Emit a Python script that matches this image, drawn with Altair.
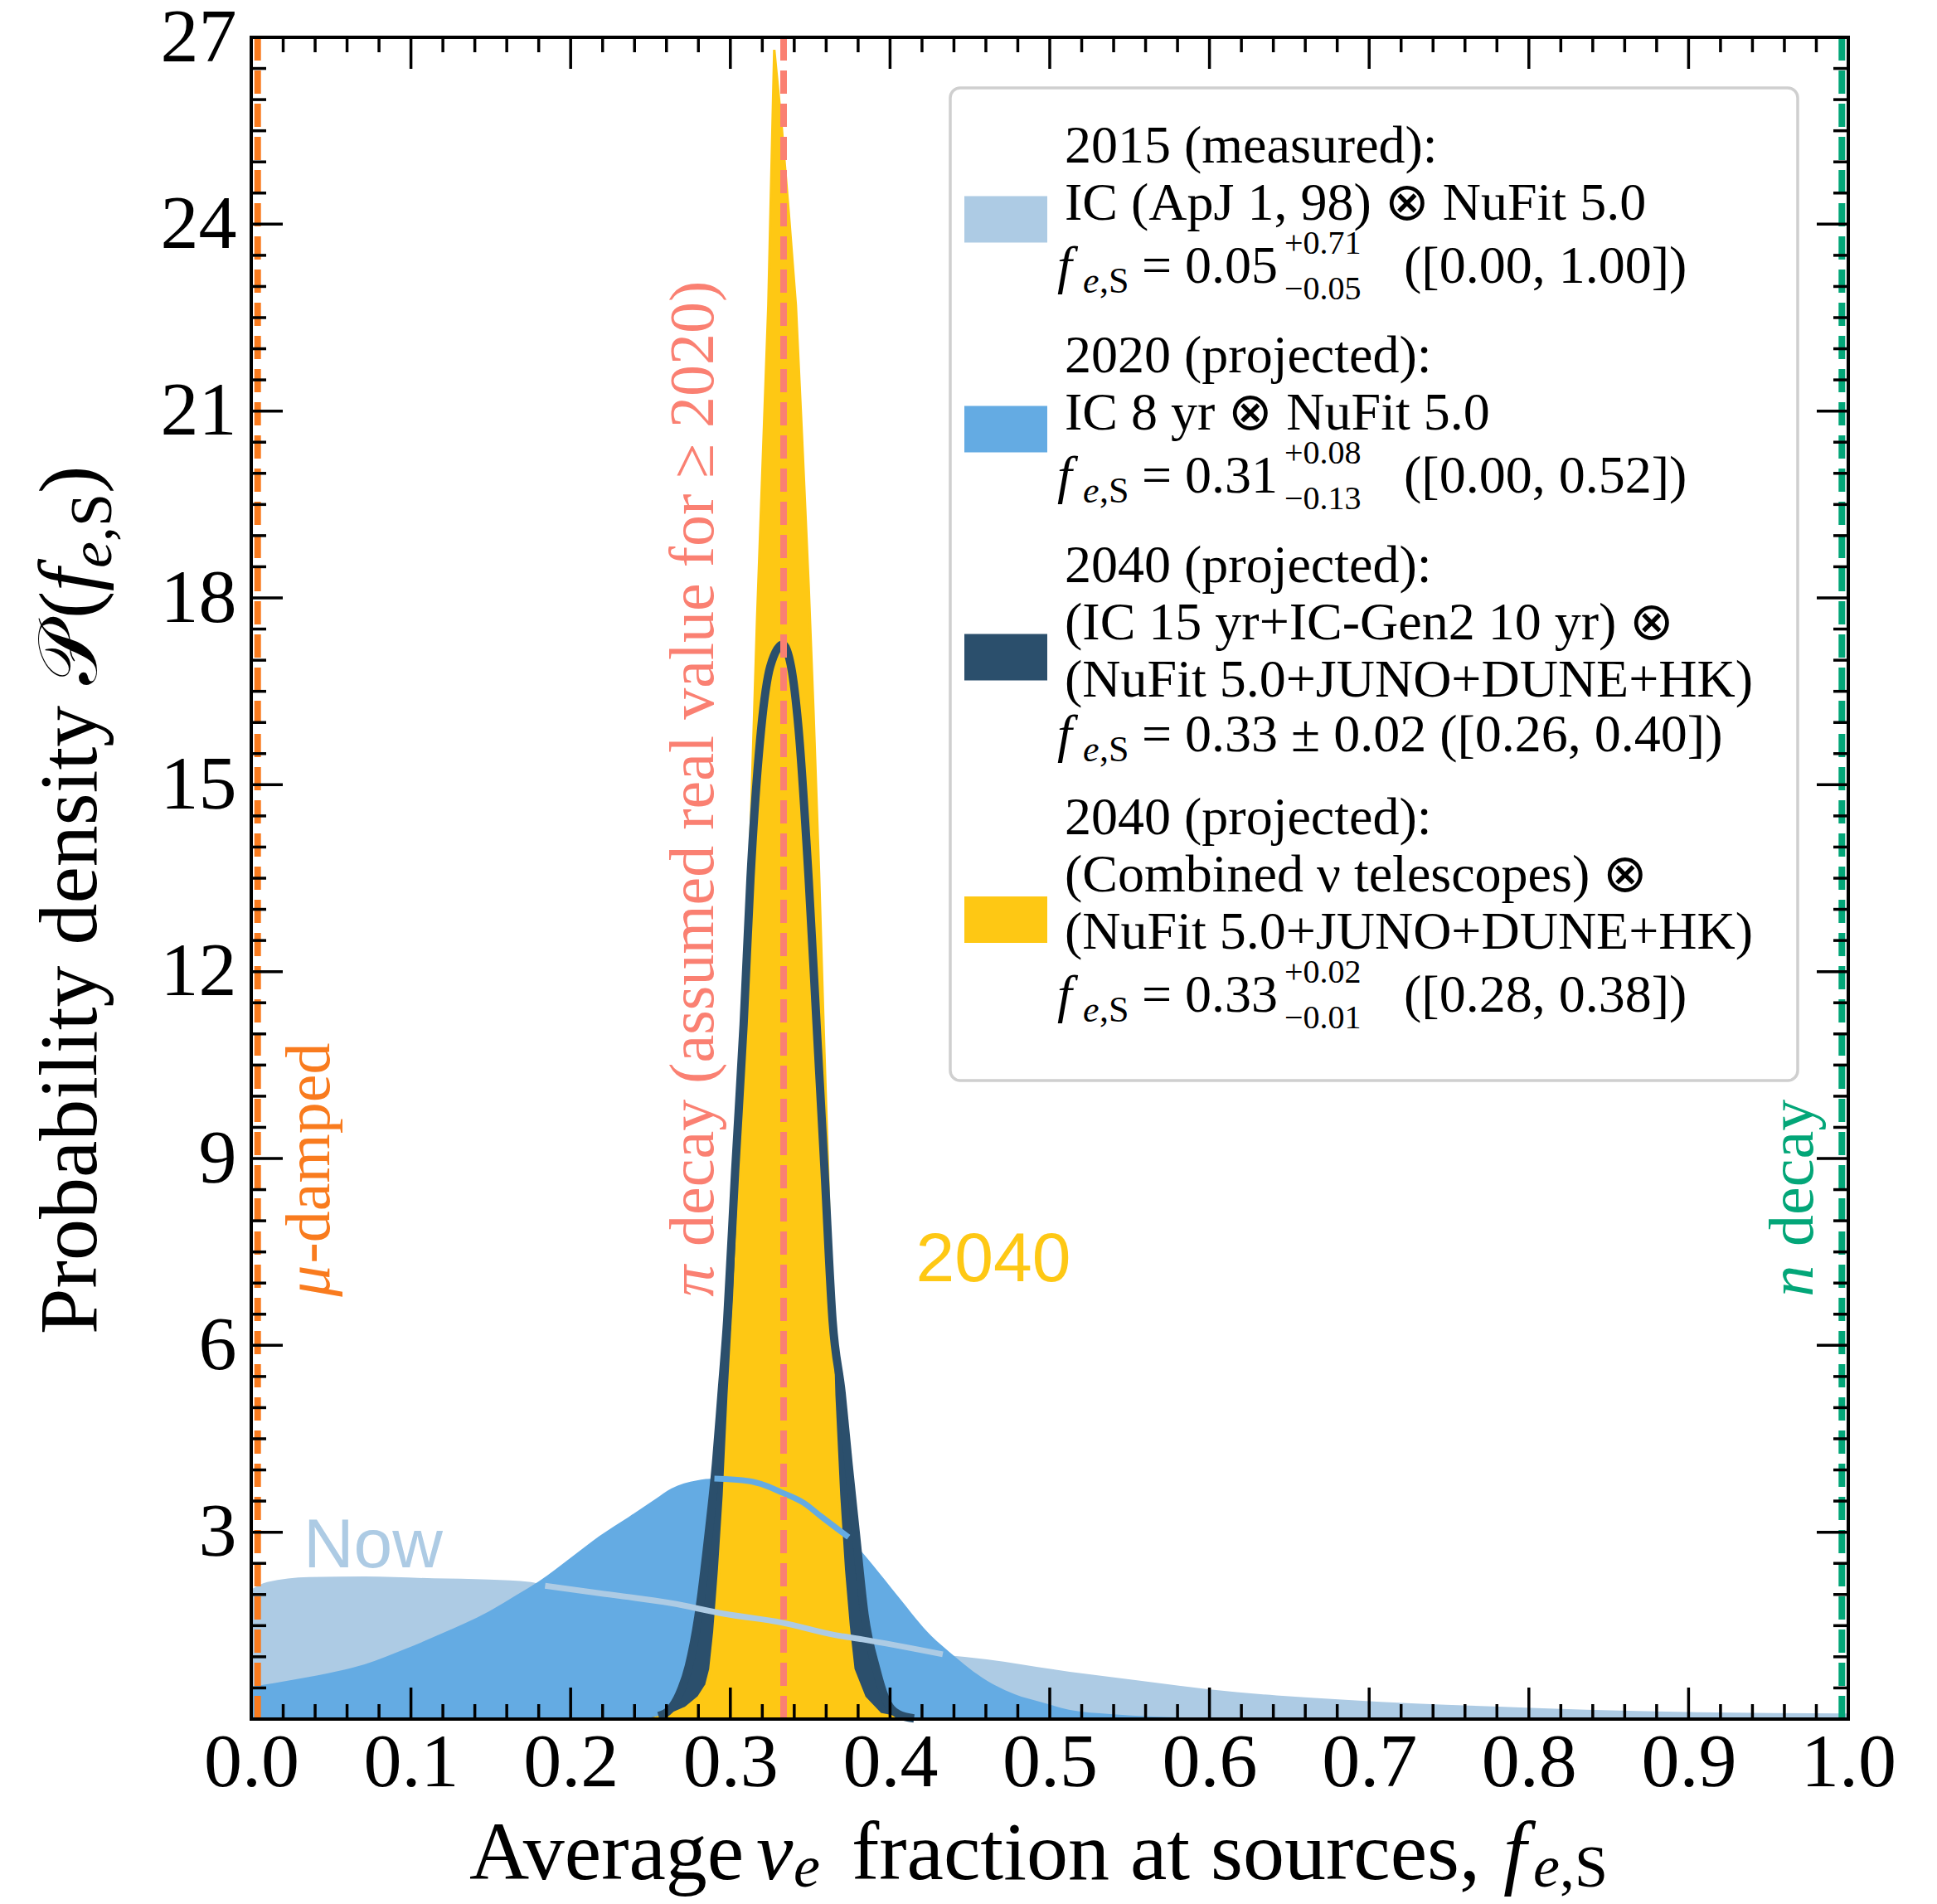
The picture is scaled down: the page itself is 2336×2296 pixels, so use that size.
import altair as alt
import pandas as pd

# ---------------- data ----------------
# 2015 (measured): IC (ApJ 1, 98) (x) NuFit 5.0
fes_2015 = [0.0, 0.010, 0.036, 0.071, 0.114, 0.149, 0.175, 0.184, 0.218, 0.263, 0.296,
            0.332, 0.3655, 0.3827, 0.433, 0.4605, 0.5125, 0.5556, 0.599, 0.642, 0.685,
            0.729, 0.781, 0.836, 0.905, 1.0]
pdf_2015 = [2.08, 2.20, 2.28, 2.29, 2.26, 2.24, 2.20, 2.14, 2.02, 1.86, 1.69,
            1.55, 1.35, 1.28, 1.04, 0.96, 0.76, 0.62, 0.48, 0.38, 0.31,
            0.25, 0.20, 0.15, 0.11, 0.09]

# 2020 (projected): IC 8 yr (x) NuFit 5.0
fes_2020 = [0.0, 0.028, 0.054, 0.071, 0.097, 0.119, 0.149, 0.166, 0.180, 0.201, 0.218,
            0.236, 0.253, 0.263, 0.279, 0.290, 0.3115, 0.322, 0.332, 0.346, 0.357, 0.374,
            0.389, 0.405, 0.426, 0.438, 0.4605, 0.478, 0.495, 0.512, 0.538, 0.564, 0.60,
            0.65, 1.0]
pdf_2020 = [0.52, 0.64, 0.77, 0.88, 1.13, 1.37, 1.73, 1.99, 2.21, 2.61, 2.94,
            3.24, 3.53, 3.70, 3.83, 3.86, 3.82, 3.75, 3.64, 3.47, 3.25, 2.92,
            2.48, 1.97, 1.33, 1.06, 0.62, 0.40, 0.27, 0.15, 0.08, 0.04, 0.02,
            0.0, 0.0]

# 2040 (projected): (IC 15 yr + IC-Gen2 10 yr) (x) (NuFit 5.0+JUNO+DUNE+HK)
fes_2040_gen2 = [0.240, 0.255, 0.262, 0.268, 0.274, 0.280, 0.2865, 0.291, 0.2944, 0.298,
                 0.303, 0.3083, 0.3126, 0.3193, 0.325, 0.3328, 0.338, 0.3427, 0.349, 0.354,
                 0.359, 0.364, 0.3697, 0.374, 0.3785, 0.384, 0.3914, 0.3967, 0.405, 0.415,
                 0.430]
pdf_2040_gen2 = [0.0, 0.05, 0.15, 0.4, 0.85, 1.65, 3.0, 4.1, 5.2, 6.4,
                 8.8, 11.15, 13.5, 15.9, 16.9, 17.25, 16.9, 15.9, 13.5, 11.15,
                 8.8, 6.4, 5.23, 4.1, 3.0, 1.68, 0.8, 0.35, 0.08, 0.01,
                 0.0]

# 2040 (projected): (Combined nu telescopes) (x) (NuFit 5.0+JUNO+DUNE+HK)
fes_2040_comb = [0.0, 0.250, 0.263, 0.272, 0.280, 0.285, 0.2875, 0.290, 0.293, 0.296,
                 0.299, 0.3025, 0.3075, 0.312, 0.3168, 0.3238, 0.3275, 0.332, 0.3365, 0.341,
                 0.345, 0.349, 0.352, 0.3555, 0.3585, 0.361, 0.363, 0.365, 0.368, 0.371,
                 0.374, 0.377, 0.384, 0.394, 0.410, 1.0]
pdf_2040_comb = [0.0, 0.0, 0.08, 0.18, 0.35, 0.55, 0.8, 1.4, 2.4, 3.6,
                 5.2, 6.8, 9.8, 13.7, 17.7, 22.7, 26.8, 25.6, 24.2, 22.7,
                 20.5, 18.2, 16.2, 13.6, 11.0, 9.0, 7.0, 5.2, 3.6, 2.4,
                 1.5, 0.8, 0.35, 0.08, 0.0, 0.0]

# reference flavour compositions (dashed lines)
mu_damped_fes = 0.004
pi_decay_fes = 1.0 / 3.0
n_decay_fes = 0.996

# tick marks
x_major = [i / 10 for i in range(11)]
x_minor = [i / 50 for i in range(51) if i % 5]
y_major = [3 * i for i in range(10)]
y_minor = [i / 2 for i in range(55) if i % 6]
y_labels = y_major[1:]

# legend content
legend_entries = [
    {"head": ["2015 (measured):", "IC (ApJ 1, 98) \u2297 NuFit 5.0"],
     "central": "0.05", "up": "+0.71", "down": "\u22120.05", "range": "([0.00, 1.00])"},
    {"head": ["2020 (projected):", "IC 8 yr \u2297 NuFit 5.0"],
     "central": "0.31", "up": "+0.08", "down": "\u22120.13", "range": "([0.00, 0.52])"},
    {"head": ["2040 (projected):", "(IC 15 yr+IC-Gen2 10 yr) \u2297",
              "(NuFit 5.0+JUNO+DUNE+HK)"],
     "central": "0.33 \u00b1 0.02", "up": None, "down": None, "range": "([0.26, 0.40])"},
    {"head": ["2040 (projected):", "(Combined \u03bd telescopes) \u2297",
              "(NuFit 5.0+JUNO+DUNE+HK)"],
     "central": "0.33", "up": "+0.02", "down": "\u22120.01", "range": "([0.28, 0.38])"},
]

# rotated annotations: (symbol, rest, gap after symbol, x position, colour)
vertical_notes = [
    ("\u03bc", "-damped", False, 0.037, "#F97B1E"),
    ("\u03c0", "decay (assumed real value for \u2265 2020)", True, 0.277, "#FA8072"),
    ("n", "decay", True, 0.9657, "#03A678"),
]

# ---------------- styling ----------------
W, H = 1926, 2028
SERIF = "Liberation Serif"
SANS = "Liberation Sans"
C_2015 = "#ADCBE4"
C_2020 = "#64ABE3"
C_DARK = "#2B4F6C"
C_YEL = "#FEC814"
C_ORANGE = "#F97B1E"
C_SALMON = "#FA8072"
C_GREEN = "#03A678"
legend_colors = [C_2015, C_2020, C_DARK, C_YEL]
YMAX = 27

xs = alt.Scale(domain=[0, 1], nice=False, zero=False)
ys = alt.Scale(domain=[0, YMAX], nice=False, zero=True)
x_axis = alt.Axis(values=x_major, format=".1f", labelFont=SERIF, labelFontSize=92,
                  labelColor="black", labelPadding=7, labelFlush=False, ticks=False,
                  tickSize=0, domain=False, grid=False, title=None, labelOverlap=False)
y_axis = alt.Axis(values=y_labels, format="d", labelFont=SERIF, labelFontSize=92,
                  labelColor="black", labelPadding=18, ticks=False, tickSize=0,
                  domain=False, grid=False, title=None, labelOverlap=False)
X = alt.X("x:Q", scale=xs, axis=x_axis)
Y = alt.Y("y:Q", scale=ys, axis=y_axis)

dummy = pd.DataFrame({"k": [0]})


def curve(xv, yv):
    return pd.DataFrame({"x": xv, "y": yv})


def txt(text, x, y, size, color="black", font=SERIF, italic=False, align="left",
        baseline="middle", angle=None):
    kw = dict(text=text, fontSize=size, color=color, font=font, align=align,
              baseline=baseline)
    if italic:
        kw["fontStyle"] = "italic"
    if angle is not None:
        kw["angle"] = angle
    return alt.Chart(dummy).mark_text(**kw).encode(x=x, y=y)


d2015 = curve(fes_2015, pdf_2015)
d2020 = curve(fes_2020, pdf_2020)
dgen2 = curve(fes_2040_gen2, pdf_2040_gen2)
dcomb = curve(fes_2040_comb, pdf_2040_comb)

layers = []
layers.append(alt.Chart(d2015).mark_area(color=C_2015, interpolate="monotone").encode(x=X, y=Y))
layers.append(alt.Chart(d2020).mark_area(color=C_2020, interpolate="monotone").encode(x=X, y=Y))
layers.append(alt.Chart(dgen2).mark_area(color=C_DARK, interpolate="monotone").encode(x=X, y=Y))
layers.append(alt.Chart(dcomb).mark_area(color=C_YEL, stroke=C_YEL, strokeWidth=3,
                                         interpolate="linear").encode(x=X, y=Y))
gen2_line = dgen2[(dgen2.x >= 0.25) & (dgen2.x <= 0.42)]
layers.append(alt.Chart(gen2_line).mark_line(color=C_DARK, strokeWidth=10,
                                             interpolate="monotone").encode(x=X, y=Y))
seg2020 = d2020[(d2020.x >= 0.29) & (d2020.x <= 0.376)]
layers.append(alt.Chart(seg2020).mark_line(color=C_2020, strokeWidth=7,
                                           interpolate="monotone").encode(x=X, y=Y))
seg2015 = d2015[(d2015.x >= 0.18) & (d2015.x <= 0.44)]
layers.append(alt.Chart(seg2015).mark_line(color=C_2015, strokeWidth=7,
                                           interpolate="monotone").encode(x=X, y=Y))

# dashed reference lines
for xv, col in [(mu_damped_fes, C_ORANGE), (pi_decay_fes, C_SALMON), (n_decay_fes, C_GREEN)]:
    layers.append(alt.Chart(pd.DataFrame({"x": [xv]})).mark_rule(
        color=col, strokeWidth=8, strokeDash=[28, 12]).encode(x=X))

# inward ticks
TK = dict(color="black", strokeWidth=3.5)
for vals, ln in [(x_major, 38), (x_minor, 18)]:
    dfx = pd.DataFrame({"x": vals})
    layers.append(alt.Chart(dfx).mark_rule(**TK).encode(x=X, y=alt.value(H), y2=alt.value(H - ln)))
    layers.append(alt.Chart(dfx).mark_rule(**TK).encode(x=X, y=alt.value(0), y2=alt.value(ln)))
for vals, ln in [(y_major, 38), (y_minor, 18)]:
    dfy = pd.DataFrame({"y": vals})
    layers.append(alt.Chart(dfy).mark_rule(**TK).encode(y=Y, x=alt.value(0), x2=alt.value(ln)))
    layers.append(alt.Chart(dfy).mark_rule(**TK).encode(y=Y, x=alt.value(W), x2=alt.value(W - ln)))

# frame
layers.append(alt.Chart(dummy).mark_rect(fillOpacity=0, stroke="black", strokeWidth=4).encode(
    x=alt.value(0), x2=alt.value(W), y=alt.value(0), y2=alt.value(H)))

# annotations
layers.append(txt("Now", alt.datum(0.0763), alt.datum(2.77), 84, C_2015, SANS, align="center"))
layers.append(txt("2040", alt.datum(0.4647), alt.datum(7.36), 84, C_YEL, SANS, align="center"))
AFS = 76
note_base = 6.78                      # data-y where the rotated notes start
to_data = YMAX / H                     # pixels -> data units along y
for sym, rest, gap, xv, col in vertical_notes:
    adv = (0.53 + (0.27 if gap else 0.0)) * AFS * to_data
    layers.append(txt(sym, alt.datum(xv), alt.datum(note_base), AFS, col, italic=True,
                      angle=270))
    layers.append(txt(rest, alt.datum(xv), alt.datum(note_base + adv), AFS, col,
                      angle=270))

# legend
layers.append(alt.Chart(dummy).mark_rect(fill="white", stroke="#cfcfcf", strokeWidth=3.5,
                                         cornerRadius=12).encode(
    x=alt.value(843), x2=alt.value(1865), y=alt.value(61), y2=alt.value(1258)))
LFS = 64
SFS = 40
cur = 132
for entry, col in zip(legend_entries, legend_colors):
    scripts = entry["up"] is not None
    for i, line in enumerate(entry["head"]):
        layers.append(txt(line, alt.value(981), alt.value(cur + 69 * i), LFS))
    last = cur + 69 * (len(entry["head"]) - 1)
    fy = last + (76 if scripts else 66)
    layers.append(txt("f", alt.value(972), alt.value(fy), LFS, italic=True))
    layers.append(txt("e", alt.value(1003), alt.value(fy + 18), 44, italic=True))
    layers.append(txt(",S", alt.value(1023), alt.value(fy + 18), 44))
    if scripts:
        layers.append(txt("= " + entry["central"], alt.value(1074), alt.value(fy), LFS))
        layers.append(txt(entry["up"], alt.value(1246), alt.value(fy - 28), SFS))
        layers.append(txt(entry["down"], alt.value(1246), alt.value(fy + 27), SFS))
        layers.append(txt(entry["range"], alt.value(1390), alt.value(fy), LFS))
    else:
        layers.append(txt("= " + entry["central"] + " " + entry["range"], alt.value(1074),
                          alt.value(fy), LFS))
    sc = (cur - 25 + fy + (45 if scripts else 30)) / 2 + 5
    layers.append(alt.Chart(dummy).mark_rect(color=col).encode(
        x=alt.value(860), x2=alt.value(960), y=alt.value(sc - 28), y2=alt.value(sc + 28)))
    cur = fy + (108 if scripts else 100)

# axis titles (built from pieces for italics / subscripts)
TFS = 100
SUB = 72
bx = 2221
layers.append(txt("Average", alt.value(263), alt.value(bx), TFS, baseline="alphabetic"))
layers.append(txt("\u03bd", alt.value(609), alt.value(bx), TFS, italic=True, baseline="alphabetic"))
layers.append(txt("e", alt.value(654), alt.value(bx + 9), SUB, italic=True, baseline="alphabetic"))
layers.append(txt("fraction at sources,", alt.value(724), alt.value(bx), TFS, baseline="alphabetic"))
layers.append(txt("f", alt.value(1510), alt.value(bx), TFS, italic=True, baseline="alphabetic"))
layers.append(txt("e", alt.value(1546), alt.value(bx + 9), SUB, italic=True, baseline="alphabetic"))
layers.append(txt(",S", alt.value(1578), alt.value(bx + 9), SUB, baseline="alphabetic"))

byx = -187
layers.append(txt("Probability density", alt.value(byx), alt.value(1564), TFS,
                  baseline="alphabetic", angle=270))
layers.append(txt("\U0001D4AB", alt.value(byx), alt.value(781), TFS, baseline="alphabetic", angle=270))
layers.append(txt("(", alt.value(byx), alt.value(701), TFS, baseline="alphabetic", angle=270))
layers.append(txt("f", alt.value(byx), alt.value(668), TFS, italic=True, baseline="alphabetic", angle=270))
layers.append(txt("e", alt.value(byx + 18), alt.value(640), SUB, italic=True, baseline="alphabetic", angle=270))
layers.append(txt(",S", alt.value(byx + 18), alt.value(608), SUB, baseline="alphabetic", angle=270))
layers.append(txt(")", alt.value(byx), alt.value(550), TFS, baseline="alphabetic", angle=270))

chart = alt.layer(*layers).properties(
    width=W, height=H,
    padding={"left": 303, "top": 45, "right": 107, "bottom": 223},
    autosize=alt.AutoSizeParams(type="none"),
    background="white",
).configure_view(stroke=None)

chart.save("out.html", embed_options={"renderer": "svg", "actions": False})
